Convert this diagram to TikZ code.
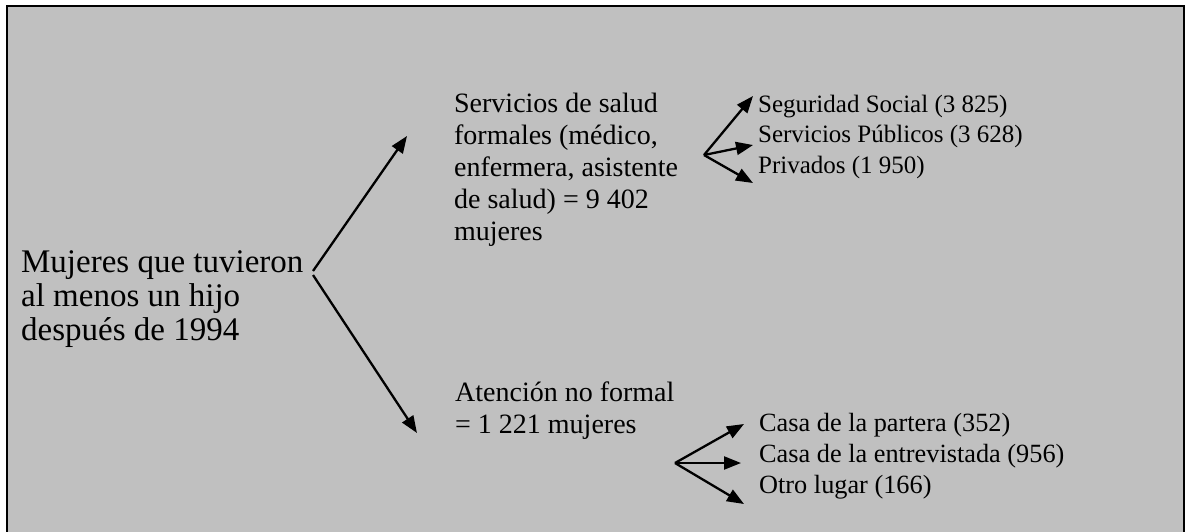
\documentclass[tikz,border=0pt]{standalone}
\usepackage{fontspec}
\setmainfont{Liberation Serif}
\usetikzlibrary{arrows.meta}
\tikzset{every picture/.style={line width=2.3pt}}
% base west = baseline of the last line
\tikzset{txt/.style={inner sep=0pt, align=left, anchor=base west}}
\tikzset{big/.style={font=\fontsize{33}{34}\selectfont}}
\tikzset{mid/.style={font=\fontsize{28}{32}\selectfont}}
\tikzset{small/.style={font=\fontsize{25}{30.5}\selectfont}}
\tikzset{smallb/.style={font=\fontsize{26.3}{31}\selectfont}}
\tikzset{arr/.style={-{Triangle[length=17pt,width=13pt]}}}

\begin{document}
\begin{tikzpicture}[x=1pt,y=-1pt]
\useasboundingbox (0,0) rectangle (1192,531);
\clip (0,0) rectangle (1192,531);
\fill[white] (0,0) rectangle (1192,531);
\draw[fill={rgb,255:red,192;green,192;blue,192}, line width=2.4pt] (7,6) rectangle (1184,545);
% texts
\node[txt, big] (mujeres) at (20,340) {Mujeres que tuvieron\\al menos un hijo\\después de 1994};
\node[txt, mid] (formal) at (453,240) {Servicios de salud\\formales (médico,\\enfermera, asistente\\de salud) = 9 402\\mujeres};
\node[txt, mid] (noformal) at (454,433) {Atención no formal\\= 1 221 mujeres};
\node[txt, small] (lugares1) at (757,173) {Seguridad Social (3 825)\\Servicios Públicos (3 628)\\Privados (1 950)};
\node[txt, smallb] (lugares2) at (758,493) {Casa de la partera (352)\\Casa de la entrevistada (956)\\Otro lugar (166)};
% fork points and tips
\coordinate (m1) at (313,271);
\coordinate (m2) at (313,275);
\coordinate (t1) at (407,136);
\coordinate (t2) at (417,433);
\coordinate (f1) at (704,155);
\coordinate (a1) at (753,96);
\coordinate (a2) at (753,145);
\coordinate (a3) at (753,183);
\coordinate (f2) at (675,463);
\coordinate (b1) at (744,424);
\coordinate (b2) at (741,463);
\coordinate (b3) at (744,504);
\draw[arr] (m1) -- (t1);
\draw[arr] (m2) -- (t2);
\draw[arr] (f1) -- (a1);
\draw[arr] (f1) -- (a2);
\draw[arr] (f1) -- (a3);
\draw[arr] (f2) -- (b1);
\draw[arr] (f2) -- (b2);
\draw[arr] (f2) -- (b3);
\end{tikzpicture}
\end{document}
